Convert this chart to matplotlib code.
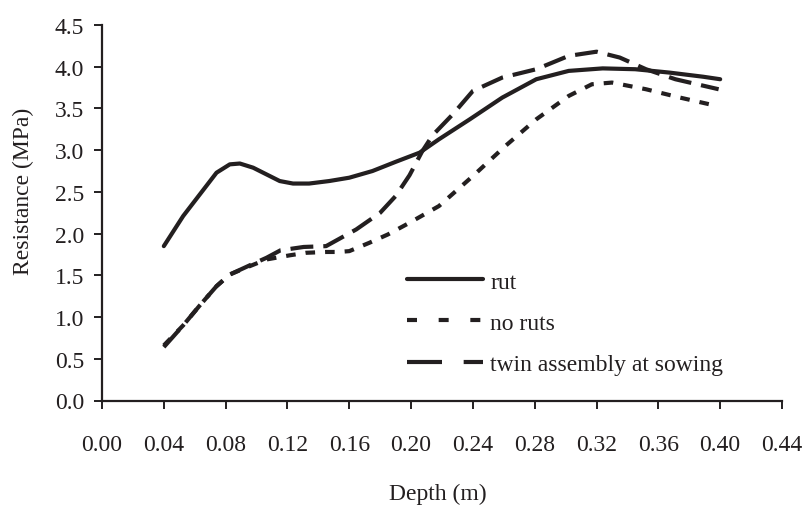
import matplotlib
matplotlib.use("Agg")
import matplotlib.pyplot as plt
from matplotlib.lines import Line2D

# ---------- data ----------
rut_x = [0.040, 0.0525, 0.0633, 0.0741, 0.0827, 0.0892, 0.0978, 0.1064, 0.115, 0.1236,
         0.134, 0.147, 0.160, 0.175, 0.190, 0.2055, 0.218, 0.238, 0.259, 0.281,
         0.302, 0.324, 0.345, 0.367, 0.389, 0.400]
rut_y = [1.85, 2.21, 2.47, 2.73, 2.83, 2.84, 2.79, 2.71, 2.63, 2.60,
         2.60, 2.63, 2.67, 2.75, 2.86, 2.97, 3.13, 3.37, 3.63, 3.85,
         3.95, 3.98, 3.97, 3.93, 3.88, 3.85]

noruts_x = [0.040, 0.0525, 0.0633, 0.0741, 0.0827, 0.0956, 0.1064, 0.1215, 0.132, 0.145,
            0.153, 0.160, 0.173, 0.185, 0.199, 0.218, 0.240, 0.261, 0.281, 0.302,
            0.317, 0.330, 0.352, 0.374, 0.393]
noruts_y = [0.66, 0.90, 1.14, 1.37, 1.51, 1.61, 1.69, 1.74, 1.77, 1.78,
            1.78, 1.79, 1.89, 1.99, 2.13, 2.33, 2.69, 3.05, 3.37, 3.65,
            3.79, 3.81, 3.73, 3.63, 3.55]

twin_x = [0.040, 0.0525, 0.0633, 0.0741, 0.0827, 0.0956, 0.1064, 0.1155, 0.1305, 0.145,
          0.1645, 0.180, 0.190, 0.199, 0.207, 0.214, 0.227, 0.240, 0.259, 0.281,
          0.302, 0.320, 0.335, 0.352, 0.371, 0.399]
twin_y = [0.64, 0.90, 1.14, 1.37, 1.51, 1.62, 1.71, 1.80, 1.84, 1.85,
          2.05, 2.25, 2.45, 2.70, 2.98, 3.18, 3.43, 3.71, 3.87, 3.97,
          4.13, 4.18, 4.11, 3.97, 3.85, 3.73]

labels = ["rut", "no ruts", "twin assembly at sowing"]
x_ticks = [0.00, 0.04, 0.08, 0.12, 0.16, 0.20, 0.24, 0.28, 0.32, 0.36, 0.40, 0.44]
y_ticks = [0.0, 0.5, 1.0, 1.5, 2.0, 2.5, 3.0, 3.5, 4.0, 4.5]

plt.rcParams["font.family"] = ["Liberation Serif", "DejaVu Serif"]
FS = 17
INK = "#231f20"

fig = plt.figure(figsize=(8.06, 5.06), dpi=100)
ax = fig.add_axes([102 / 806, 1 - 401.5 / 506, 680 / 806, 375.5 / 506])

lw = 3
short_dash = (0, (2.3, 2.4))
long_dash = (0, (5.5, 2.4))
ax.plot(rut_x, rut_y, color=INK, lw=lw, solid_capstyle="round", solid_joinstyle="round")
ax.plot(noruts_x, noruts_y, color=INK, lw=lw, linestyle=short_dash, dash_capstyle="butt")
ax.plot(twin_x, twin_y, color=INK, lw=lw, linestyle=long_dash, dash_capstyle="butt")

ax.set_xlim(0, 0.44)
ax.set_ylim(0, 4.5)
ax.set_xticks(x_ticks)
ax.set_xticklabels([f"{v:.2f}" for v in x_ticks])
ax.set_yticks(y_ticks)
ax.set_yticklabels([f"{v:.1f}" for v in y_ticks])

for s in ["top", "right"]:
    ax.spines[s].set_visible(False)
for s in ["left", "bottom"]:
    ax.spines[s].set_linewidth(1.6)
    ax.spines[s].set_color(INK)
ax.tick_params(axis="both", direction="out", length=6, width=1.4, color=INK,
               labelsize=FS, labelcolor=INK)
ax.tick_params(axis="x", pad=18)
ax.tick_params(axis="y", pad=7)

fig.text(438 / 806, 1 - 494 / 506, "Depth (m)", ha="center", va="center", fontsize=FS, color=INK)
fig.text(23 / 806, 1 - 191 / 506, "Resistance (MPa)", ha="center", va="center",
         rotation=90, fontsize=FS, color=INK)

handles = [
    Line2D([], [], color=INK, lw=lw, solid_capstyle="round"),
    Line2D([], [], color=INK, lw=lw, linestyle=(0, (2.4, 5.2)), dash_capstyle="butt"),
    Line2D([], [], color=INK, lw=lw, linestyle=(0, (8.4, 5.2)), dash_capstyle="butt"),
]
ax.legend(handles, labels, loc="upper left", bbox_to_anchor=(407 / 806, 1 - 272 / 506),
          bbox_transform=fig.transFigure, frameon=False, fontsize=FS,
          handlelength=3.22, handletextpad=0.3, labelspacing=0.83,
          borderpad=0, borderaxespad=0, labelcolor=INK)

fig.savefig("out.png", dpi=100)
